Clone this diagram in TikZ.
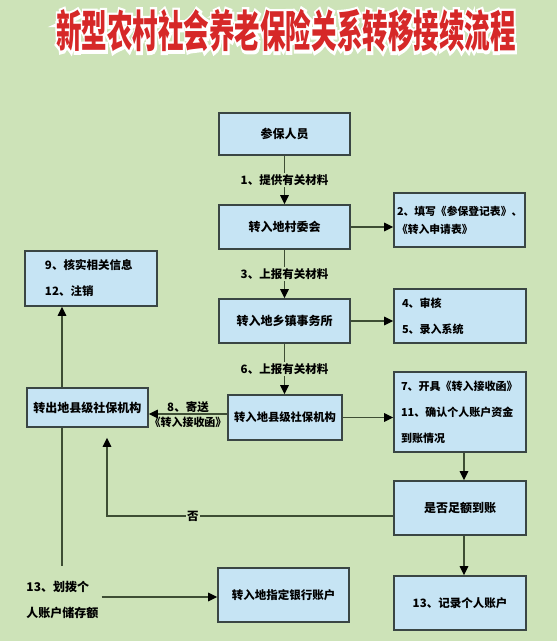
\documentclass[tikz,border=0pt]{standalone}
\usepackage{fontspec}
\newfontfamily\cjk{Noto Sans CJK SC}
\usetikzlibrary{arrows.meta}
\definecolor{bg}{RGB}{205,227,184}
\definecolor{boxfill}{RGB}{198,228,244}
\definecolor{boxline}{RGB}{58,70,68}
\definecolor{lineclr}{RGB}{62,78,52}
\definecolor{titlered}{RGB}{214,40,40}
\newcommand\mytitletext{新型农村社会养老保险关系转移接续流程}
\begin{document}
\begin{tikzpicture}[x=1pt,y=-1pt,
  every node/.style={font=\cjk\bfseries\fontsize{12}{14}\selectfont, text=black},
  box/.style={draw=boxline, line width=1.6pt, fill=boxfill, inner sep=2pt},
  mbox/.style={box, align=left},
  arr/.style={draw=lineclr, line width=1.3pt, -{Triangle[length=9pt,width=8.5pt,color=black]}},
  ln/.style={draw=lineclr, line width=1.3pt},
  lbl/.style={fill=bg, inner sep=1.5pt, font=\cjk\bfseries\fontsize{11.5}{14}\selectfont}]
\fill[bg] (0,0) rectangle (557,641);
\useasboundingbox (0,0) rectangle (557,641);

% title: emboldened white copy under a red copy
\node (titleoutline) at (286,31) {\scalebox{0.58}[1]{\cjk\bfseries\fontsize{44}{50}\selectfont\addfontfeature{FakeBold=14}\color{white}\mytitletext}};
\node (title) at (286,31) {\scalebox{0.58}[1]{\cjk\bfseries\fontsize{44}{50}\selectfont\color{titlered}\mytitletext}};

% centre column
\node[box, minimum width=131pt, minimum height=42pt] (p1) at (284.5,134) {参保人员};
\node[box, minimum width=131pt, minimum height=44pt] (p2) at (284.5,227) {转入地村委会};
\node[box, minimum width=131pt, minimum height=44pt] (p3) at (284.5,321) {转入地乡镇事务所};
\node[box, minimum width=114pt, minimum height=45pt, font=\cjk\bfseries\fontsize{11.3}{14}\selectfont] (p4) at (285,417.5) {转入地县级社保机构};
\node[box, minimum width=131pt, minimum height=54pt, font=\cjk\bfseries\fontsize{11.5}{14}\selectfont] (bank) at (283.5,595) {转入地指定银行账户};

% right column
\node[mbox, minimum width=131pt, minimum height=54pt, inner xsep=3pt, text width=125pt, font=\cjk\bfseries\fontsize{10.8}{18}\selectfont] (r1) at (459.5,220) {2、填写《参保登记表》、\\《转入申请表》};
\node[mbox, minimum width=132pt, minimum height=54pt, inner xsep=8pt, text width=116pt, font=\cjk\bfseries\fontsize{11}{26}\selectfont] (r2) at (460,316) {4、审核\\5、录入系统};
\node[mbox, minimum width=132pt, minimum height=80pt, inner xsep=7pt, text width=118pt, font=\cjk\bfseries\fontsize{11}{26}\selectfont] (r3) at (460,412) {7、开具《转入接收函》\\11、确认个人账户资金\\到账情况};
\node[box, minimum width=132pt, minimum height=54pt] (r4) at (460,508) {是否足额到账};
\node[box, minimum width=132pt, minimum height=54pt, font=\cjk\bfseries\fontsize{11.5}{14}\selectfont] (r5) at (460,603) {13、记录个人账户};

% left column
\node[mbox, minimum width=132pt, minimum height=55pt, inner xsep=20pt, text width=92pt, font=\cjk\bfseries\fontsize{11.5}{26}\selectfont] (l1) at (91,278.5) {9、核实相关信息\\12、注销};
\node[box, minimum width=121pt, minimum height=39pt] (l2) at (87.5,407.5) {转出地县级社保机构};
\node[align=left, inner sep=3pt, font=\cjk\bfseries\fontsize{12}{26}\selectfont] (t13) at (62.5,600) {13、划拨个\\人账户储存额};

% helper coordinates
\coordinate (y8) at (0,414);
\coordinate (xl) at (62,0);
\coordinate (yb) at (0,597);
\coordinate (xr) at (464,0);
\coordinate (yn) at (0,516);
\coordinate (xn) at (107,0);

% connectors
\draw[arr] (p1.south) -- node[lbl] (a1) {1、提供有关材料} (p1.south |- p2.north);
\draw[arr] (p2.south) -- node[lbl] (a3) {3、上报有关材料} (p2.south |- p3.north);
\draw[arr] (p3.south) -- node[lbl] (a6) {6、上报有关材料} (p3.south |- p4.north);
\draw[arr] (p2.east) -- (p2.east -| r1.west);
\draw[arr] (p3.east) -- (p3.east -| r2.west);
\draw[arr] (p4.east) -- (p4.east -| r3.west);
\draw[arr] (p4.west |- y8) -- node[above, inner sep=1pt, font=\cjk\bfseries\fontsize{11.5}{14}\selectfont] (a8) {8、寄送}
  node[below, inner sep=2pt, font=\cjk\bfseries\fontsize{11}{14}\selectfont] (a8b) {《转入接收函》} (l2.east |- y8);
\draw[arr] (l2.north -| xl) -- (l1.south -| xl);
\draw[ln, shorten >=12pt] (l2.south -| xl) -- (t13.north -| xl);
\draw[arr] (t13.east |- yb) -- (bank.west |- yb);
\draw[arr] (r3.south -| xr) -- (r4.north -| xr);
\draw[arr] (r4.south -| xr) -- (r5.north -| xr);
\draw[arr, shorten >=10pt] (r4.west |- yn) -- node[lbl, pos=0.7] (no) {否} (xn |- yn) -- (xn |- l2.south);
\end{tikzpicture}
\end{document}
